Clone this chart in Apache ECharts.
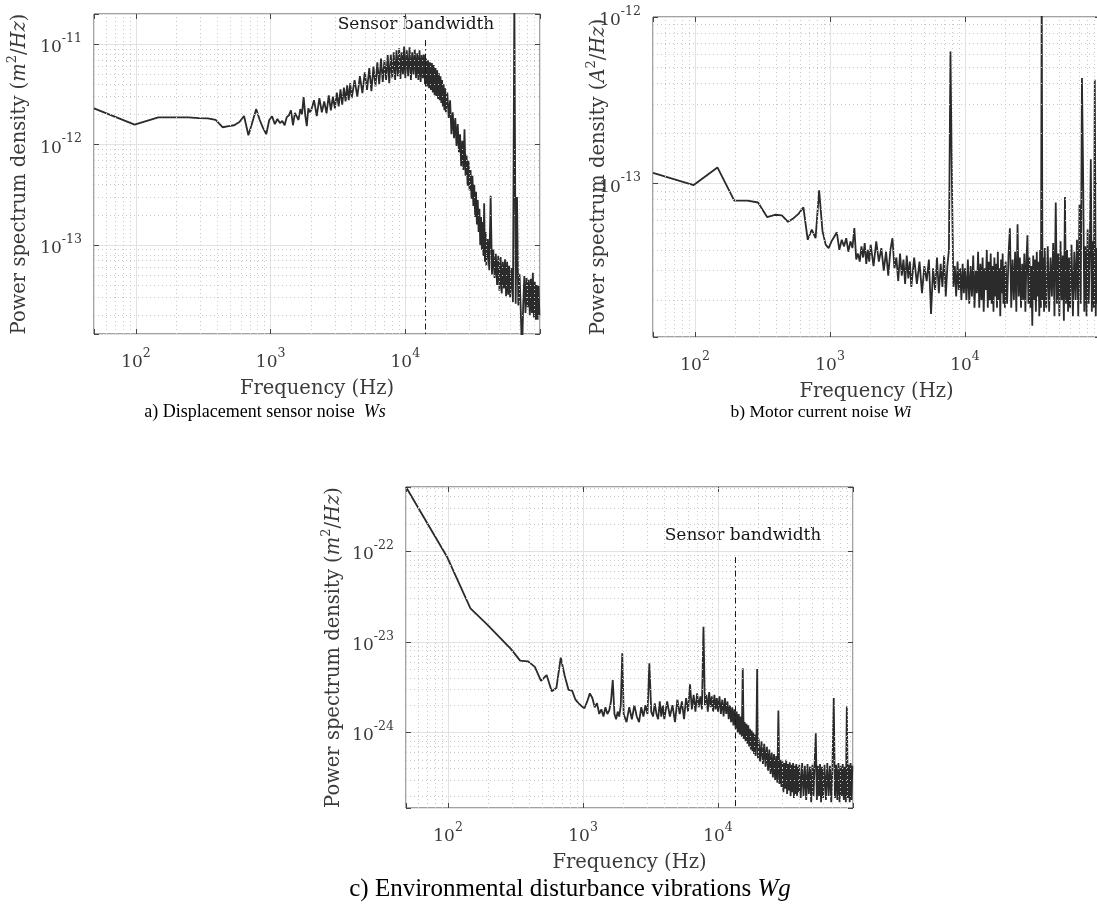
<!DOCTYPE html>
<html>
<head>
<meta charset="utf-8">
<title>Noise spectra</title>
<script src="https://cdn.jsdelivr.net/npm/echarts@6/dist/echarts.min.js"></script>
<style>
html, body { margin: 0; padding: 0; background: #fff; }
#chart { width: 1097px; height: 910px; }
</style>
</head>
<body>
<div id="chart"></div>
<script>
// frequency bins (Hz), shared by the three spectra
const freq = [
  48.8, 97.7, 146.5, 195.3, 244.1, 293, 341.8, 390.6, 439.5, 488.3,
  537.1, 586, 634.8, 683.6, 732.4, 781.3, 830.1, 878.9, 927.7, 976.6,
  1025, 1074, 1123, 1172, 1221, 1270, 1318, 1367, 1416, 1465,
  1514, 1563, 1611, 1660, 1709, 1758, 1807, 1855, 1904, 1953,
  2000, 2100, 2200, 2300, 2400, 2500, 2600, 2700, 2800, 2900,
  3000, 3100, 3200, 3300, 3400, 3500, 3600, 3700, 3800, 3900,
  4000, 4200, 4400, 4600, 4800, 5000, 5200, 5400, 5600, 5800,
  6000, 6200, 6400, 6600, 6800, 7000, 7200, 7400, 7600, 7800,
  8000, 8200, 8400, 8600, 8800, 9000, 9200, 9400, 9600, 9800,
  10000, 10250, 10500, 10750, 11000, 11250, 11500, 11750, 12000, 12250,
  12500, 12750, 13000, 13250, 13500, 13750, 14000, 14250, 14500, 14750,
  15000, 15250, 15500, 15750, 16000, 16250, 16500, 16750, 17000, 17250,
  17500, 17750, 18000, 18250, 18500, 18750, 19000, 19250, 19500, 19750,
  20000, 20500, 21000, 21500, 22000, 22500, 23000, 23500, 24000, 24500,
  25000, 25500, 26000, 26500, 27000, 27500, 28000, 28500, 29000, 29500,
  30000, 30500, 31000, 31500, 32000, 32500, 33000, 33500, 34000, 34500,
  35000, 35500, 36000, 36500, 37000, 37500, 38000, 38500, 39000, 39500,
  40000, 41000, 42000, 43000, 44000, 45000, 46000, 47000, 48000, 49000,
  50000, 51000, 52000, 53000, 54000, 55000, 56000, 57000, 58000, 59000,
  60000, 61500, 63000, 64500, 66000, 67500, 69000, 70500, 72000, 73500,
  75000, 76500, 78000, 79500, 81000, 82500, 84000, 85500, 87000, 88500,
  90000, 91500, 93000, 94500, 96000, 97500, 99000
]

// a) displacement sensor noise Ws, in 1e-12 m^2/Hz
const wsExp = -12
const wsPsd = [
  2.3, 1.58, 1.87, 1.87, 1.87, 1.84, 1.83, 1.76, 1.49, 1.53,
  1.56, 1.68, 1.93, 1.24, 1.68, 2.26, 1.76, 1.46, 1.27, 1.76,
  1.92, 1.6, 1.8, 1.64, 1.72, 1.56, 1.88, 1.96, 2.2, 1.56,
  2.07, 2.16, 1.76, 2.26, 2.0, 2.97, 1.96, 1.53, 2.3, 2.1,
  2.2, 2.77, 1.92, 2.9, 2.1, 2.7, 2.05, 3.1, 2.2, 3.0,
  2.3, 3.3, 2.4, 3.55, 2.5, 3.7, 2.7, 3.9, 2.77, 4.1,
  2.9, 4.4, 3.0, 4.8, 3.25, 5.25, 3.5, 5.8, 3.4, 6.0,
  3.8, 6.6, 4.0, 7.2, 4.2, 6.9, 4.4, 7.8, 4.1, 7.9,
  4.6, 8.3, 4.4, 8.7, 4.8, 9.1, 4.5, 8.3, 5.0, 9.5,
  4.6, 8.7, 4.8, 9.3, 4.4, 8.3, 5.0, 8.9, 4.6, 8.1,
  4.4, 8.7, 4.2, 7.8, 4.6, 7.9, 4.0, 7.2, 3.8, 6.9,
  3.65, 6.6, 3.5, 6.5, 3.3, 6.2, 3.1, 5.8, 3.05, 5.5,
  2.85, 5.15, 2.77, 4.8, 2.6, 4.4, 2.4, 4.0, 2.2, 3.65,
  2.1, 3.3, 1.84, 2.77, 1.27, 2.1, 1.16, 1.84, 0.97, 1.6,
  0.84, 1.27, 0.61, 1.09, 0.56, 1.42, 0.49, 0.78, 0.39, 0.69,
  0.35, 0.56, 0.29, 0.49, 0.245, 0.40, 0.19, 0.34, 0.16, 0.28,
  0.135, 0.23, 0.10, 0.19, 0.09, 0.17, 0.078, 0.26, 0.068, 0.135,
  0.062, 0.115, 0.056, 0.31, 0.051, 0.09, 0.047, 0.082, 0.040, 0.078,
  0.035, 0.076, 0.033, 0.068, 0.037, 0.072, 0.031, 0.068, 0.032, 0.062,
  0.030, 0.059, 0.027, 30, 0.026, 0.30, 0.025, 0.051, 0.022, 0.008,
  0.025, 0.049, 0.021, 0.047, 0.024, 0.045, 0.020, 0.046, 0.021, 0.053,
  0.019, 0.043, 0.018, 0.040, 0.018, 0.039, 0.020
]
const wsBandwidth = 14100 // Hz
const wsBandwidthTop = 11

// b) motor current noise Wi, in 1e-14 A^2/Hz
const wiExp = -14
const wiPsd = [
  11.6, 9.8, 12.5, 7.9, 7.9, 7.7, 6.3, 6.5, 6.45, 5.9,
  6.2, 6.6, 7.2, 4.6, 5.3, 4.7, 9.1, 5.2, 4.3, 4.1,
  4.5, 4.8, 5.1, 4.0, 4.6, 4.2, 4.7, 3.9, 4.5, 4.1,
  5.4, 3.5, 3.8, 3.4, 4.2, 3.6, 4.4, 3.3, 4.0, 3.4,
  4.3, 3.2, 4.5, 3.4, 4.1, 3.0, 3.9, 2.8, 4.0, 4.7,
  3.1, 3.6, 2.6, 3.8, 2.8, 3.5, 2.5, 3.7, 2.7, 3.4,
  2.4, 3.6, 2.5, 3.4, 2.2, 3.2, 2.6, 3.5, 1.65, 3.1,
  2.3, 3.6, 2.2, 3.3, 2.4, 3.7, 2.1, 3.2, 4.0, 62,
  10, 2.4, 3.2, 2.1, 3.4, 2.3, 3.1, 2.0, 3.3, 2.2,
  3.1, 2.0, 3.5, 1.9, 3.2, 2.1, 3.7, 1.8, 3.0, 2.2,
  3.9, 1.8, 3.3, 2.0, 3.6, 1.7, 3.1, 2.3, 4.0, 1.8,
  3.4, 2.0, 3.8, 1.9, 3.2, 1.7, 3.6, 2.1, 3.3, 1.8,
  3.9, 2.0, 3.1, 1.6, 3.5, 2.2, 3.8, 1.9, 3.2, 1.8,
  3.4, 1.9, 3.7, 5.4, 1.8, 3.5, 2.0, 3.9, 1.7, 5.7,
  2.1, 3.6, 1.8, 3.3, 2.0, 3.8, 1.7, 3.4, 4.9, 1.9,
  3.6, 1.8, 3.2, 1.4, 3.7, 2.0, 3.5, 1.7, 3.9, 2.1,
  3.4, 1.6, 4.0, 1.8, 150, 2.0, 3.6, 1.7, 4.1, 2.0,
  1.8, 4.2, 1.7, 3.6, 2.1, 4.4, 1.6, 7.7, 1.9, 3.8,
  1.6, 4.5, 2.0, 3.7, 1.5, 8.3, 1.9, 4.0, 1.7, 3.6,
  1.8, 4.3, 1.6, 3.9, 2.0, 4.6, 1.6, 7.5, 1.9, 43,
  11, 1.7, 4.2, 1.6, 5.3, 1.9, 4.0, 14, 1.7, 4.5,
  1.8, 42, 1.6, 4.1, 1.9, 3.8, 1.7
]

// c) environmental disturbance vibrations Wg, in 1e-24 m^2/Hz
const wgExp = -24
const wgPsd = [
  510, 88, 23.4, 15.5, 11.0, 8.3, 6.2, 6.1, 5.3, 3.7,
  4.3, 2.85, 3.1, 6.7, 4.2, 2.95, 2.9, 2.3, 2.1, 1.95,
  1.85, 2.2, 2.7, 2.4, 1.9, 2.1, 1.6, 1.8, 1.5, 1.9,
  1.6, 1.75, 2.2, 3.8, 1.6, 1.4, 1.7, 1.5, 2.0, 7.5,
  1.6, 1.3, 1.9, 1.4, 2.0, 1.5, 1.3, 1.9, 1.5, 2.0,
  1.6, 5.8, 1.7, 1.5, 2.1, 1.6, 1.4, 2.2, 1.5, 2.0,
  1.4, 2.2, 1.5, 2.0, 1.3, 2.3, 1.6, 2.2, 1.4, 2.4,
  1.7, 3.4, 1.8, 2.6, 1.7, 2.7, 1.9, 2.5, 1.8, 14.7,
  2.0, 2.6, 1.7, 2.8, 1.9, 2.5, 1.7, 2.6, 1.8, 2.4,
  1.7, 2.5, 1.6, 2.3, 1.5, 2.4, 1.6, 2.2, 1.4, 2.0,
  1.3, 1.9, 1.2, 1.8, 1.1, 1.7, 1.0, 1.6, 0.95, 1.5,
  0.9, 5.1, 0.85, 1.3, 0.8, 1.25, 0.75, 1.2, 0.7, 1.1,
  0.65, 1.05, 0.62, 1.0, 0.58, 0.95, 0.55, 0.9, 5.0, 0.52,
  0.85, 0.48, 0.8, 0.45, 0.75, 0.42, 0.7, 0.38, 0.65, 0.35,
  0.6, 0.32, 0.58, 0.3, 0.55, 0.28, 1.75, 0.27, 0.5, 0.25,
  0.48, 0.22, 0.46, 0.24, 0.5, 0.21, 0.45, 0.23, 0.47, 0.2,
  0.44, 0.22, 0.46, 0.19, 0.43, 0.21, 0.45, 0.2, 0.42, 0.22,
  0.44, 0.19, 0.46, 0.2, 0.43, 0.18, 0.45, 0.21, 0.42, 0.17,
  0.44, 0.2, 0.46, 0.98, 0.18, 0.43, 0.2, 0.45, 0.17, 0.42,
  0.19, 0.44, 0.18, 0.46, 0.2, 0.43, 0.17, 0.45, 2.4, 0.19,
  0.44, 0.18, 0.46, 0.17, 0.43, 0.2, 0.45, 0.18, 0.42, 0.17,
  1.93, 0.19, 0.44, 0.17, 0.46, 0.18, 0.43
]
const wgBandwidth = 13500 // Hz
const wgBandwidthTop = 86

// axis limits
const freqMin = 48.8
const freqMax = 1e5
// minor grid lines (2..9 per decade)
const minorX = [60, 70, 80, 90, 200, 300, 400, 500, 600, 700, 800, 900,
  2000, 3000, 4000, 5000, 6000, 7000, 8000, 9000,
  20000, 30000, 40000, 50000, 60000, 70000, 80000, 90000]
const wsMinorY = [0.02, 0.03, 0.04, 0.05, 0.06, 0.07, 0.08, 0.09,
  0.2, 0.3, 0.4, 0.5, 0.6, 0.7, 0.8, 0.9, 2, 3, 4, 5, 6, 7, 8, 9]
const wiMinorY = [2, 3, 4, 5, 6, 7, 8, 9, 20, 30, 40, 50, 60, 70, 80, 90]
const wgMinorY = [0.2, 0.3, 0.4, 0.5, 0.6, 0.7, 0.8, 0.9, 2, 3, 4, 5, 6, 7, 8, 9,
  20, 30, 40, 50, 60, 70, 80, 90, 200, 300, 400, 500]

if (wsPsd.length !== freq.length || wiPsd.length !== freq.length || wgPsd.length !== freq.length) {
  throw new Error('length mismatch ' + freq.length + ' ' + wsPsd.length + ' ' + wiPsd.length + ' ' + wgPsd.length)
}

const serif = 'DejaVu Serif'
const textColor = '#3a3a3a'
const frameColor = '#454545'

// y values are kept in panel units (10^exp) and the labels add the exponent
const panels = [
  {
    grid: { left: 94, top: 14, width: 446, height: 320 },
    yMin: 0.013, yMax: 20, exp: wsExp, psd: wsPsd, minorY: wsMinorY,
    sym: 'm', nameGap: 64, bandwidth: wsBandwidth, bandwidthTop: wsBandwidthTop
  },
  {
    grid: { left: 653, top: 17, width: 447, height: 320 },
    yMin: 1.2, yMax: 100, exp: wiExp, psd: wiPsd, minorY: wiMinorY,
    sym: 'A', nameGap: 44
  },
  {
    grid: { left: 406, top: 487, width: 447, height: 321 },
    yMin: 0.147, yMax: 510, exp: wgExp, psd: wgPsd, minorY: wgMinorY,
    sym: 'm', nameGap: 62, bandwidth: wgBandwidth, bandwidthTop: wgBandwidthTop, xNameGap: 45
  }
]

// 10^n labels, only on whole decades
function decadeLabel (offset, maxExp) {
  return function (value) {
    const e = Math.log10(value)
    if (!isFinite(e)) return ''
    const r = Math.round(e)
    if (Math.abs(e - r) > 1e-6 || r > maxExp) return ''
    return '{b|10}{s|' + (r + offset) + '}'
  }
}
const tickRich = {
  b: { fontFamily: serif, fontSize: 17, color: textColor, lineHeight: 24, verticalAlign: 'bottom' },
  s: { fontFamily: serif, fontSize: 12.5, color: textColor, lineHeight: 24, verticalAlign: 'top' }
}
const nameRich = {
  r: { fontFamily: serif, fontSize: 19.5, color: textColor, lineHeight: 24, verticalAlign: 'bottom' },
  i: { fontFamily: serif, fontSize: 19.5, fontStyle: 'italic', color: textColor, lineHeight: 24, verticalAlign: 'bottom' },
  s: { fontFamily: serif, fontSize: 13, color: textColor, lineHeight: 24, verticalAlign: 'top' }
}
const tickStyle = { show: true, inside: true, length: 5, lineStyle: { color: frameColor, width: 1 } }

function chartOption () {
  const grid = []
  const xAxis = []
  const yAxis = []
  const series = []
  panels.forEach((p, i) => {
    grid.push(Object.assign({
      show: true, borderColor: frameColor, borderWidth: 1,
      containLabel: false, outerBoundsMode: 'none'
    }, p.grid))
    // bottom axis with labels
    xAxis.push({
      type: 'log', logBase: 10, gridIndex: i, min: freqMin, max: freqMax,
      name: 'Frequency (Hz)', nameLocation: 'middle', nameGap: p.xNameGap || 45,
      nameMoveOverlap: false,
      nameTextStyle: { fontFamily: serif, fontSize: 19.5, color: textColor },
      axisLine: { show: false },
      axisTick: tickStyle,
      axisLabel: { margin: 13, formatter: decadeLabel(0, 4), rich: tickRich },
      splitLine: { show: true, lineStyle: { color: '#e2e2e2', width: 1 } }
    })
    // top axis, ticks only
    xAxis.push({
      type: 'log', logBase: 10, gridIndex: i, min: freqMin, max: freqMax, position: 'top',
      axisLine: { show: false }, axisTick: tickStyle,
      axisLabel: { show: false }, splitLine: { show: false }
    })
    yAxis.push({
      type: 'log', logBase: 10, gridIndex: i, min: p.yMin, max: p.yMax,
      name: '{r|Power spectrum density (}{i|' + p.sym + '}{s|2}{r|/}{i|Hz}{r|)}',
      nameLocation: 'middle', nameGap: p.nameGap, nameMoveOverlap: false,
      nameTextStyle: { rich: nameRich },
      axisLine: { show: false },
      axisTick: tickStyle,
      axisLabel: { margin: 12, formatter: decadeLabel(p.exp, 99), rich: tickRich },
      splitLine: { show: true, lineStyle: { color: '#e2e2e2', width: 1 } }
    })
    yAxis.push({
      type: 'log', logBase: 10, gridIndex: i, min: p.yMin, max: p.yMax, position: 'right',
      axisLine: { show: false }, axisTick: tickStyle,
      axisLabel: { show: false }, splitLine: { show: false }
    })
    // dotted minor grid
    series.push({
      type: 'line', xAxisIndex: 2 * i, yAxisIndex: 2 * i, data: [], z: 1, silent: true,
      markLine: {
        silent: true, animation: false, symbol: ['none', 'none'], label: { show: false },
        lineStyle: { type: [1, 3], color: '#c9c9c9', width: 1 },
        data: minorX.map(v => ({ xAxis: v })).concat(p.minorY.map(v => ({ yAxis: v })))
      }
    })
    // spectrum
    const s = {
      type: 'line', xAxisIndex: 2 * i, yAxisIndex: 2 * i, z: 3,
      data: freq.map((f, k) => [f, p.psd[k]]),
      showSymbol: false, symbol: 'none', animation: false, silent: true, clip: true,
      lineStyle: { color: '#2b2b2b', width: 1.8 }
    }
    if (p.bandwidth) {
      s.markLine = {
        silent: true, animation: false, symbol: ['none', 'none'], label: { show: false },
        lineStyle: { type: [6, 3, 1.5, 3], color: '#1a1a1a', width: 1 },
        data: [[{ coord: [p.bandwidth, p.bandwidthTop] }, { coord: [p.bandwidth, p.yMin] }]]
      }
    }
    series.push(s)
  })

  const capRich = size => ({
    r: { fontFamily: 'Liberation Serif', fontSize: size, fill: '#000' },
    i: { fontFamily: 'Liberation Serif', fontSize: size, fontStyle: 'italic', fill: '#000' }
  })
  const note = (x, y) => ({
    type: 'text', x: x, y: y, silent: true,
    style: { text: 'Sensor bandwidth', fontFamily: serif, fontSize: 17, fill: '#151515', align: 'center', verticalAlign: 'middle' }
  })
  const caption = (x, y, text, size) => ({
    type: 'text', x: x, y: y, silent: true,
    style: { text: text, rich: capRich(size), align: 'center', verticalAlign: 'middle' }
  })

  return {
    animation: false,
    backgroundColor: '#fff',
    grid: grid,
    xAxis: xAxis,
    yAxis: yAxis,
    series: series,
    graphic: [
      note(416, 25),
      note(743, 536),
      caption(265, 412, '{r|a) Displacement sensor noise  }{i|Ws}', 18),
      caption(821, 412, '{r|b) Motor current noise }{i|Wi}', 17.5),
      caption(570, 889, '{r|c) Environmental disturbance vibrations }{i|Wg}', 25)
    ]
  }
}

const chart = echarts.init(document.getElementById('chart'))
chart.setOption(chartOption())
</script>
</body>
</html>
